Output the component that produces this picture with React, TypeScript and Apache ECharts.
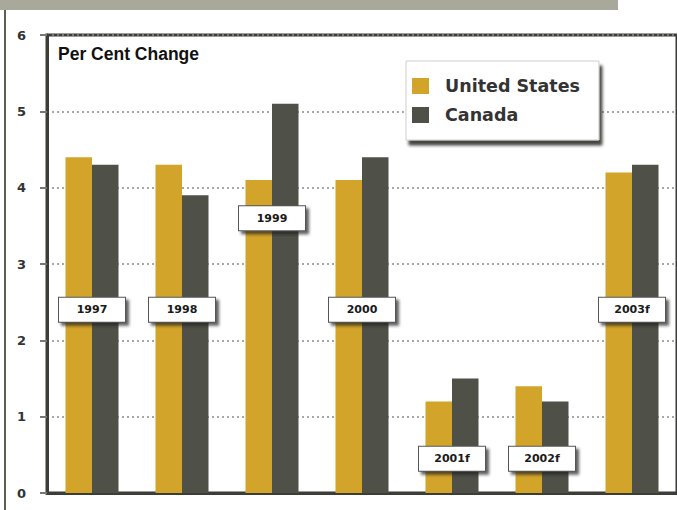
import React, { useEffect, useRef } from "react";
import * as echarts from "echarts";

const categories = ["1997", "1998", "1999", "2000", "2001f", "2002f", "2003f"];
const unitedStates = [4.4, 4.3, 4.1, 4.1, 1.2, 1.4, 4.2];
const canada = [4.3, 3.9, 5.1, 4.4, 1.5, 1.2, 4.3];
const labelLevels = [2.4, 2.4, 3.6, 2.4, 0.45, 0.45, 2.4];
const yTicks = [0, 1, 2, 3, 4, 5, 6];

const US_COLOR = "#d3a42a";
const CA_COLOR = "#4f5148";

export default function App() {
  const ref = useRef<HTMLDivElement>(null);
  useEffect(() => {
    if (!ref.current) return;
    const chart = echarts.init(ref.current, null, { renderer: "svg" });
    chart.setOption({
      animation: false,
      backgroundColor: "#ffffff",
      grid: {
        left: 47,
        top: 35,
        width: 633,
        bottom: 17,
        show: true,
        borderColor: "#3d3d38",
        borderWidth: 3,
        backgroundColor: "transparent",
      },
      legend: {
        orient: "vertical",
        left: 406,
        top: 61,
        data: ["United States", "Canada"],
        icon: "rect",
        itemWidth: 17,
        itemHeight: 16,
        itemGap: 11,
        padding: [16, 19, 16, 6],
        backgroundColor: "#ffffff",
        borderColor: "#cfcfcf",
        borderWidth: 1,
        shadowColor: "rgba(40,40,35,0.85)",
        shadowBlur: 3,
        shadowOffsetX: 3,
        shadowOffsetY: 5,
        textStyle: {
          fontFamily: "DejaVu Sans",
          fontWeight: "bold",
          fontSize: 17.5,
          color: "#333333",
          lineHeight: 16,
          padding: [0, 0, 0, 11],
        },
      },
      xAxis: {
        type: "category",
        data: categories,
        axisLine: { show: true, lineStyle: { color: "#3d3d38", width: 3 } },
        axisTick: { show: false },
        axisLabel: { show: false },
      },
      yAxis: {
        type: "value",
        min: yTicks[0],
        max: yTicks[yTicks.length - 1],
        interval: 1,
        axisLine: { show: true, lineStyle: { color: "#3d3d38", width: 3 } },
        axisTick: { show: true, length: 7, lineStyle: { color: "#777", width: 2 } },
        axisLabel: {
          margin: 21,
          fontFamily: "DejaVu Sans",
          fontWeight: "bold",
          fontSize: 13,
          color: "#333333",
        },
        splitLine: {
          show: true,
          lineStyle: { color: "#8a8a8a", type: [2, 3], width: 1.5 },
        },
      },
      series: [
        {
          name: "United States",
          type: "bar",
          data: unitedStates,
          barWidth: 26.5,
          barGap: "0%",
          itemStyle: { color: US_COLOR },
          z: 2,
        },
        {
          name: "Canada",
          type: "bar",
          data: canada,
          barWidth: 26.5,
          barGap: "0%",
          itemStyle: { color: CA_COLOR },
          z: 2,
        },
        {
          name: "labels",
          type: "scatter",
          data: labelLevels,
          symbolSize: 0,
          z: 5,
          silent: true,
          itemStyle: { opacity: 1 },
          label: {
            show: true,
            position: "inside",
            opacity: 1,
            formatter: (p: any) => categories[p.dataIndex],
            backgroundColor: "#ffffff",
            borderColor: "#555555",
            borderWidth: 1,
            width: 58,
            align: "center",
            padding: [7, 4, 6, 4],
            shadowColor: "rgba(30,30,30,0.7)",
            shadowBlur: 3,
            shadowOffsetX: 3,
            shadowOffsetY: 3,
            fontFamily: "DejaVu Sans",
            fontWeight: "bold",
            fontSize: 11,
            color: "#1a1a1a",
          },
        },
      ],
      graphic: [
        {
          type: "rect",
          shape: { x: 0, y: 0, width: 618, height: 10 },
          style: { fill: "#a9a99b" },
          silent: true,
        },
        {
          type: "rect",
          shape: { x: 4, y: 10, width: 2, height: 500 },
          style: { fill: "#5e5c4a" },
          silent: true,
        },
        {
          type: "text",
          x: 58,
          y: 54,
          style: {
            text: "Per Cent Change",
            fontFamily: "Liberation Sans",
            fontWeight: "bold",
            fontSize: 17.5,
            fill: "#111111",
            verticalAlign: "middle",
          },
          z: 10,
        },
      ],
    });
    return () => chart.dispose();
  }, []);
  return (
    <div
      ref={ref}
      style={{ position: "fixed", left: 0, top: 0, width: 677, height: 510 }}
    />
  );
}
